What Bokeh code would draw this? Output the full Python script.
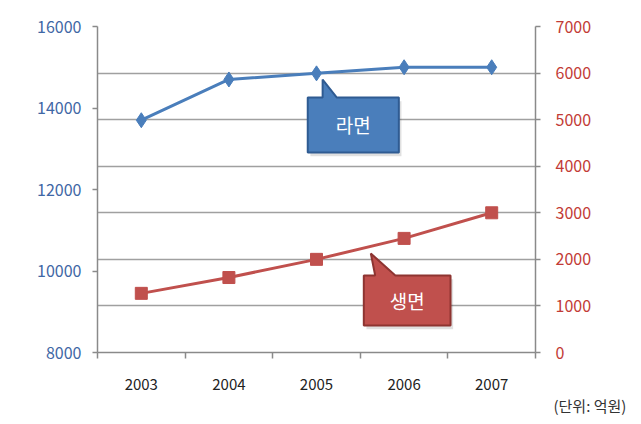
from bokeh.plotting import figure
from bokeh.models import Range1d, LinearAxis, FixedTicker, Title
from bokeh.core.properties import value
from bokeh.embed import file_html
from bokeh.resources import INLINE

years = ["2003", "2004", "2005", "2006", "2007"]
ramen = [13700, 14700, 14850, 15000, 15000]          # left axis
saengmyeon = [1270, 1610, 2000, 2450, 3000]          # right axis
left_ticks = [8000, 10000, 12000, 14000, 16000]
right_ticks = [0, 1000, 2000, 3000, 4000, 5000, 6000, 7000]
ramen_label = "라면"
saeng_label = "생면"
unit_label = "(단위: 억원)"

FONT = "Noto Sans CJK KR"
BLUE = "#4a7ebb"
BLUE_DARK = "#2f5b92"
RED = "#c0504d"
RED_DARK = "#8e3431"

xs = [i + 0.5 for i in range(len(years))]

p = figure(width=641, height=424, x_range=Range1d(0, len(years)),
           y_range=Range1d(left_ticks[0], left_ticks[-1]),
           output_backend="svg", toolbar_location=None,
           min_border_left=97, min_border_right=106,
           min_border_top=26, min_border_bottom=72)
p.extra_y_ranges = {"right": Range1d(right_ticks[0], right_ticks[-1])}
p.outline_line_color = None
p.background_fill_color = "white"
p.border_fill_color = "white"

# x axis: labels at category centres, tick marks at category boundaries
xa = p.xaxis[0]
xa.ticker = FixedTicker(ticks=xs, minor_ticks=list(range(len(years) + 1)))
xa.major_label_overrides = {x: y for x, y in zip(xs, years)}
xa.major_tick_out = 0
xa.major_tick_in = 0
xa.minor_tick_out = 6
xa.minor_tick_in = 0
xa.minor_tick_line_color = "#8a8a8a"
xa.minor_tick_line_width = 1.5
xa.axis_line_color = "#8a8a8a"
xa.axis_line_width = 1.5
xa.major_label_standoff = 20
xa.major_label_text_font = FONT
xa.major_label_text_font_size = "15px"
xa.major_label_text_color = "#222222"

# left axis
ya = p.yaxis[0]
ya.ticker = FixedTicker(ticks=left_ticks)
ya.major_tick_out = 5
ya.major_tick_in = 0
ya.minor_tick_out = 0
ya.minor_tick_in = 0
ya.major_tick_line_color = "#8a8a8a"
ya.major_tick_line_width = 1.5
ya.axis_line_color = "#8a8a8a"
ya.axis_line_width = 1.5
ya.major_label_standoff = 11
ya.major_label_text_font = FONT
ya.major_label_text_font_size = "16px"
ya.major_label_text_color = "#3f67a5"

# right axis
ra = LinearAxis(y_range_name="right", ticker=FixedTicker(ticks=right_ticks))
ra.major_tick_out = 5
ra.major_tick_in = 0
ra.minor_tick_out = 0
ra.minor_tick_in = 0
ra.major_tick_line_color = "#8a8a8a"
ra.major_tick_line_width = 1.5
ra.axis_line_color = "#8a8a8a"
ra.axis_line_width = 1.5
ra.major_label_standoff = 15
ra.major_label_text_font = FONT
ra.major_label_text_font_size = "16px"
ra.major_label_text_color = "#c23b36"
p.add_layout(ra, "right")

# grid follows right-axis ticks
p.xgrid.visible = False
g = p.ygrid[0]
g.y_range_name = "right"
g.ticker = FixedTicker(ticks=right_ticks)
g.grid_line_color = "#a0a0a0"
g.grid_line_width = 1.5

# series
p.line(xs, ramen, line_color=BLUE, line_width=3)
p.scatter(xs, ramen, marker="diamond", size=15, fill_color=BLUE, line_color=BLUE)
p.line(xs, saengmyeon, y_range_name="right", line_color=RED, line_width=3)
p.scatter(xs, saengmyeon, y_range_name="right", marker="square", size=12,
          fill_color=RED, line_color=RED)

# callouts (positions in category-index / left-axis units)
blue_x = [2.40, 2.57, 2.57, 2.73, 3.44, 3.44, 2.40]
blue_y = [14258, 14258, 14699, 14258, 14258, 12908, 12908]
red_x = [3.04, 3.17, 3.12, 3.40, 4.03, 4.03, 3.04]
red_y = [9890, 9890, 10430, 9890, 9890, 8663, 8663]

p.patch([x + 0.03 for x in blue_x], [y - 90 for y in blue_y], fill_color="#000000",
        fill_alpha=0.12, line_color=None)
p.patch([x + 0.03 for x in red_x], [y - 90 for y in red_y], fill_color="#000000",
        fill_alpha=0.12, line_color=None)
p.patch(blue_x, blue_y, fill_color=BLUE, line_color=BLUE_DARK, line_width=2)
p.patch(red_x, red_y, fill_color=RED, line_color=RED_DARK, line_width=2)

p.text([(2.40 + 3.44) / 2], [(14258 + 12908) / 2], text=[ramen_label],
       text_font=value(FONT), text_font_size="19px", text_color="white",
       text_align="center", text_baseline="middle")
p.text([(3.04 + 4.03) / 2], [(9890 + 8663) / 2], text=[saeng_label],
       text_font=value(FONT), text_font_size="19px", text_color="white",
       text_align="center", text_baseline="middle")

unit = Title(text=unit_label, align="left", offset=456, standoff=0,
             text_font=FONT, text_font_size="15px", text_font_style="normal",
             text_color="#333333")
p.add_layout(unit, "below")

open("out.html", "w").write(file_html(p, INLINE))
